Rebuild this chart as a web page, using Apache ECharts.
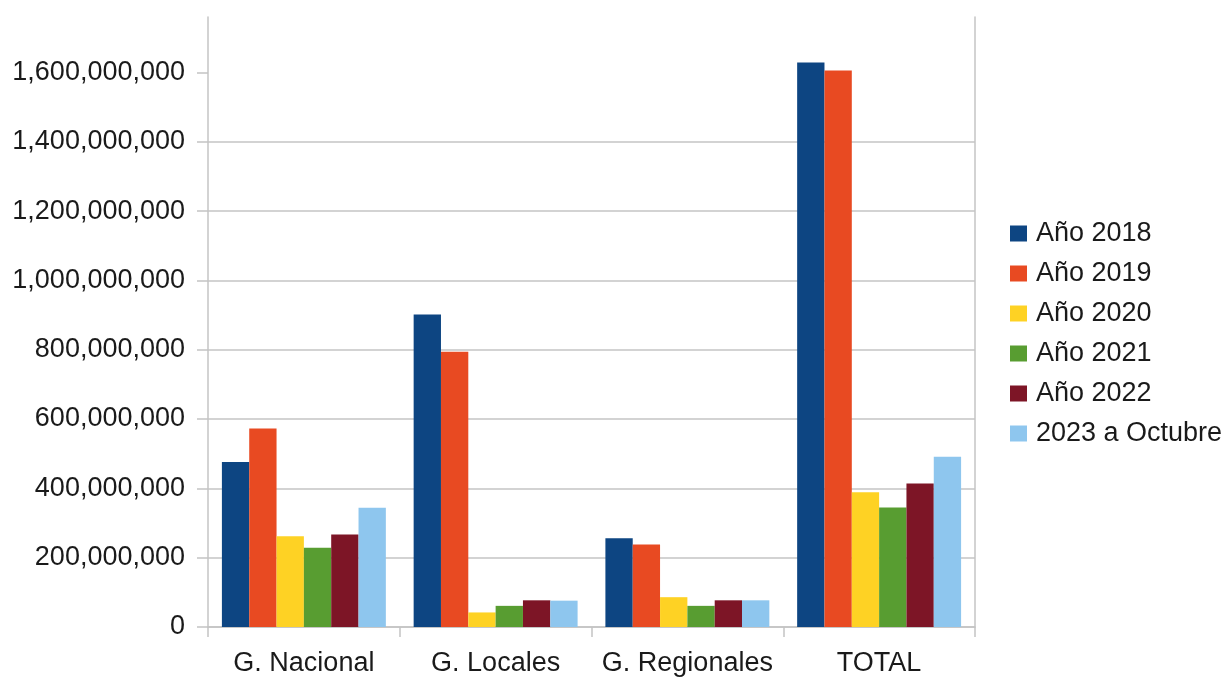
<!DOCTYPE html>
<html>
<head>
<meta charset="utf-8">
<script src="https://cdn.jsdelivr.net/npm/echarts@6/dist/echarts.min.js"></script>
<style>
html,body{margin:0;padding:0;background:#fff;}
#chart{width:1229px;height:678px;}
</style>
</head>
<body>
<div id="chart"></div>
<script>
const categories = ['G. Nacional', 'G. Locales', 'G. Regionales', 'TOTAL'];
const seriesNames = ['Año 2018', 'Año 2019', 'Año 2020', 'Año 2021', 'Año 2022', '2023 a Octubre'];
const ano2018 = [476000000, 902000000, 256000000, 1629000000];
const ano2019 = [573000000, 794000000, 238000000, 1606000000];
const ano2020 = [262000000, 42000000, 86000000, 389000000];
const ano2021 = [229000000, 61000000, 61000000, 345000000];
const ano2022 = [267000000, 77000000, 77000000, 414000000];
const ano2023 = [344000000, 76000000, 77000000, 491000000];
const yTicks = [0, 200000000, 400000000, 600000000, 800000000, 1000000000, 1200000000, 1400000000, 1600000000];
const colors = ['#0d4582', '#e84a22', '#fed224', '#589d31', '#7d1526', '#8ec6ee'];

const seriesData = [ano2018, ano2019, ano2020, ano2021, ano2022, ano2023];
const font = 'Liberation Sans, Arial, sans-serif';
const grid = '#c4c4c4';
const txt = '#1a1a1a';

const chart = echarts.init(document.getElementById('chart'), null, {renderer: 'canvas'});
chart.setOption({
  animation: false,
  color: colors,
  textStyle: {fontFamily: font},
  grid: {left: 208, right: 254, top: 17, bottom: 51, containLabel: false},
  legend: {
    orient: 'vertical',
    left: 1005,
    top: 215,
    icon: 'rect',
    itemWidth: 17,
    itemHeight: 16,
    itemGap: 13,
    data: seriesNames,
    textStyle: {fontSize: 27, color: txt, fontFamily: font, padding: [0, 0, 0, 4]}
  },
  xAxis: {
    type: 'category',
    data: categories,
    axisLine: {lineStyle: {color: grid, width: 1.5}},
    axisTick: {show: true, interval: 0, length: 10, lineStyle: {color: grid, width: 1.5}},
    axisLabel: {interval: 0, fontSize: 27, color: txt, margin: 23, fontFamily: font}
  },
  yAxis: [{
    type: 'value',
    min: 0,
    max: 1760000000,
    interval: 200000000,
    axisLine: {show: true, lineStyle: {color: grid, width: 1.5}},
    axisTick: {show: true, length: 11, customValues: yTicks, lineStyle: {color: grid, width: 1.5}},
    axisLabel: {
      fontSize: 27, color: txt, margin: 23, fontFamily: font,
      customValues: yTicks,
      formatter: v => Number(v).toLocaleString('en-US')
    },
    splitLine: {show: true, showMaxLine: false, lineStyle: {color: grid, width: 1.5}}
  }, {
    type: 'value',
    position: 'right',
    min: 0,
    max: 1760000000,
    interval: 200000000,
    axisLine: {show: true, lineStyle: {color: grid, width: 1.5}},
    axisTick: {show: false},
    axisLabel: {show: false},
    splitLine: {show: false}
  }],
  series: seriesNames.map((name, i) => ({
    name: name,
    type: 'bar',
    data: seriesData[i],
    barGap: '0%',
    barCategoryGap: '14.5%',
    itemStyle: {color: colors[i]}
  }))
});
</script>
</body>
</html>
